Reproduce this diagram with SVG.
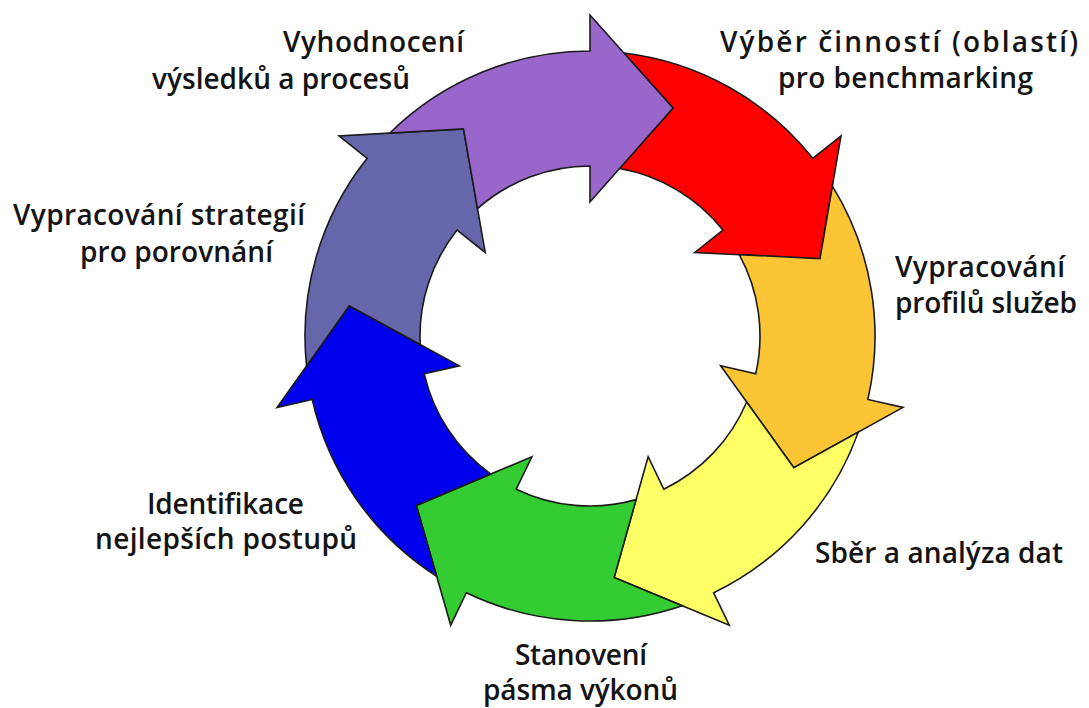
<svg xmlns="http://www.w3.org/2000/svg" xmlns:xlink="http://www.w3.org/1999/xlink" width="1089" height="708" viewBox="0 0 1089 708">
<style>
.arrow{stroke:#1a1a1a;stroke-width:1.6;stroke-linejoin:miter}
.lbl{font-family:"Open Sans","Liberation Sans",sans-serif;font-weight:600;font-size:28px;fill:#141414}
</style>
<defs>
<path id="arrowShape" d="M 389.92 133.04 A 285 285 0 0 1 590 51 L 590 15 L 673 108 L 590 202 L 590 166 A 170 170 0 0 0 477.49 208.56 L 463.49 128.95 Z"/>
</defs>
<rect width="1089" height="708" fill="#ffffff"/>
<g id="cycle-arrows">
<g id="arrow-vyber"><use xlink:href="#arrowShape" href="#arrowShape" class="arrow" fill="#ff0000" transform="rotate(51.4286 590 336)"/></g>
<g id="arrow-profily"><use xlink:href="#arrowShape" href="#arrowShape" class="arrow" fill="#fcc535" transform="rotate(102.8571 590 336)"/></g>
<g id="arrow-sber"><use xlink:href="#arrowShape" href="#arrowShape" class="arrow" fill="#ffff66" transform="rotate(154.2857 590 336)"/></g>
<g id="arrow-stanoveni"><use xlink:href="#arrowShape" href="#arrowShape" class="arrow" fill="#33cc33" transform="rotate(205.7143 590 336)"/></g>
<g id="arrow-identifikace"><use xlink:href="#arrowShape" href="#arrowShape" class="arrow" fill="#0000ee" transform="rotate(257.1429 590 336)"/></g>
<g id="arrow-strategie"><use xlink:href="#arrowShape" href="#arrowShape" class="arrow" fill="#6666aa" transform="rotate(308.5714 590 336)"/></g>
<g id="arrow-vyhodnoceni"><use xlink:href="#arrowShape" href="#arrowShape" class="arrow" fill="#9966cc"/></g>
</g>
<g id="label-vyhodnoceni">
<text class="lbl" x="283" y="52" textLength="181">Vyhodnocení</text>
<text class="lbl" x="152" y="89" textLength="258">výsledků a procesů</text>
</g>
<g id="label-vyber">
<text class="lbl" x="720" y="52" textLength="358">Výběr činností (oblastí)</text>
<text class="lbl" x="778" y="88" textLength="255">pro benchmarking</text>
</g>
<g id="label-strategie">
<text class="lbl" x="13" y="225" textLength="292">Vypracování strategií</text>
<text class="lbl" x="80" y="262" textLength="193">pro porovnání</text>
</g>
<g id="label-profily">
<text class="lbl" x="895" y="277" textLength="170">Vypracování</text>
<text class="lbl" x="895" y="313" textLength="182">profilů služeb</text>
</g>
<g id="label-identifikace">
<text class="lbl" x="147" y="514" textLength="157">Identifikace</text>
<text class="lbl" x="95" y="549" textLength="262">nejlepších postupů</text>
</g>
<g id="label-sber">
<text class="lbl" x="815" y="563" textLength="248">Sběr a analýza dat</text>
</g>
<g id="label-stanoveni">
<text class="lbl" x="515" y="665" textLength="132">Stanovení</text>
<text class="lbl" x="483" y="700" textLength="195">pásma výkonů</text>
</g>
</svg>
